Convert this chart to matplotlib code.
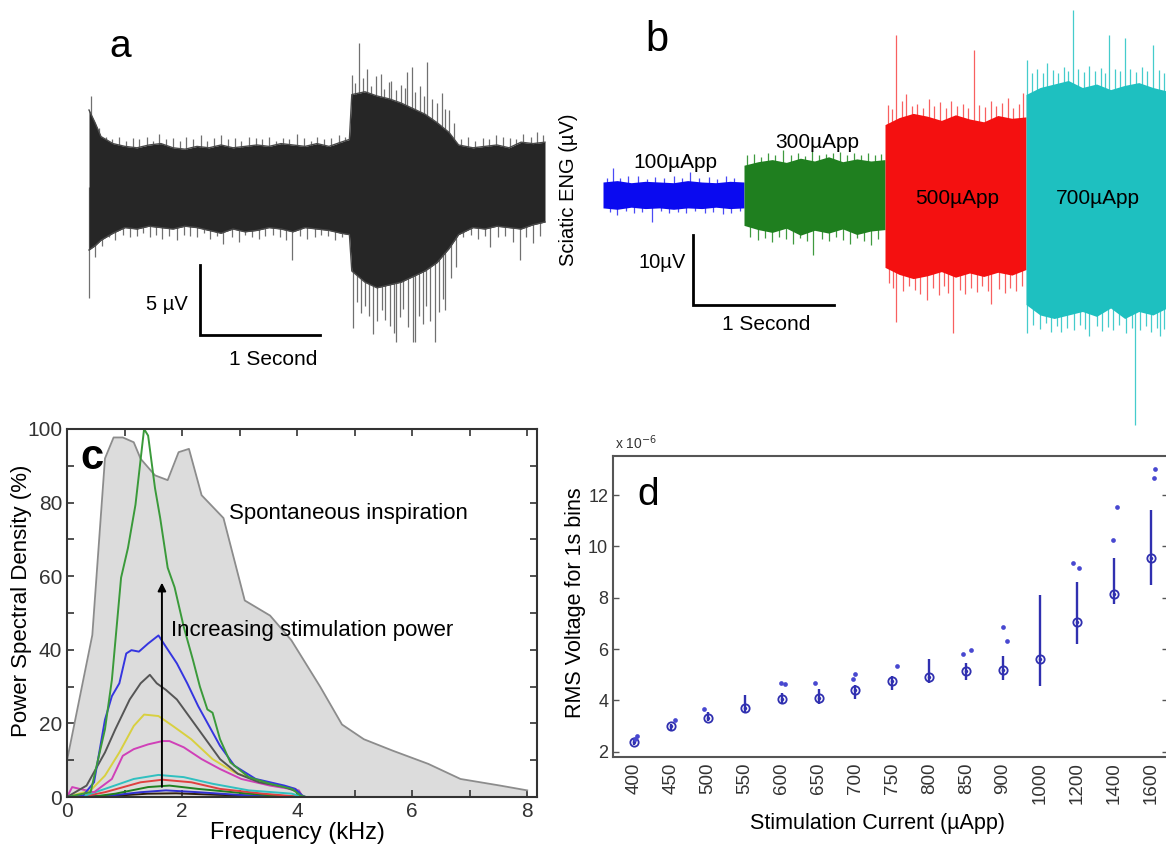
import matplotlib

matplotlib.use("Agg")
import matplotlib.pyplot as plt
import numpy as np
from matplotlib.ticker import MultipleLocator

plt.rcParams["font.family"] = ["Liberation Sans", "DejaVu Sans"]

W, H = 1166, 846

# panel a: spontaneous sciatic ENG, envelope in uV over time (s)
a_time = [0.00, 0.05, 0.10, 0.20, 0.30, 0.40, 0.50, 0.60, 0.70, 0.80, 0.90,
          1.00, 1.10, 1.20, 1.30, 1.40, 1.50, 1.60, 1.70, 1.80, 1.90, 2.00,
          2.10, 2.17, 2.19, 2.30, 2.40, 2.50, 2.60, 2.70, 2.80, 2.90, 3.00,
          3.08, 3.20, 3.30, 3.40, 3.50, 3.60, 3.70, 3.80]
a_top = [5.5, 4.6, 3.6, 3.1, 2.9, 2.8, 3.0, 3.1, 2.8, 2.7, 2.9,
         2.8, 3.0, 2.8, 2.9, 3.0, 2.9, 3.1, 3.0, 2.9, 3.1, 2.9,
         3.2, 3.4, 6.6, 6.8, 6.5, 6.3, 6.0, 5.6, 5.2, 4.6, 3.9,
         3.0, 2.8, 2.9, 3.0, 2.8, 3.2, 3.1, 3.2]
a_bottom = [-4.5, -4.2, -3.8, -3.3, -2.9, -3.0, -2.8, -2.9, -3.0, -2.8, -2.9,
            -3.1, -3.3, -3.0, -3.2, -3.1, -2.9, -3.0, -3.2, -2.9, -3.0, -3.1,
            -3.3, -3.4, -6.0, -6.8, -7.2, -7.0, -6.8, -6.4, -6.0, -5.4, -4.4,
            -3.4, -2.9, -3.0, -2.8, -2.9, -3.0, -2.7, -2.5]
a_up_time = [0.02, 0.08, 0.14, 0.19, 0.25, 0.31, 0.37, 0.42, 0.48, 0.53,
             0.58, 0.64, 0.70, 0.76, 0.81, 0.87, 0.93, 0.98, 1.04, 1.10,
             1.16, 1.22, 1.27, 1.33, 1.39, 1.44, 1.50, 1.56, 1.62, 1.67,
             1.73, 1.79, 1.85, 1.90, 1.96, 2.02, 2.08, 2.13,
             2.19, 2.22, 2.25, 2.28, 2.32, 2.35, 2.39, 2.43, 2.46, 2.50,
             2.52, 2.56, 2.60, 2.63, 2.65, 2.69, 2.72, 2.76, 2.79, 2.82,
             2.86, 2.90, 2.94, 2.97, 3.00, 3.04,
             3.10, 3.16, 3.22, 3.28, 3.33, 3.39, 3.45, 3.51, 3.56, 3.62,
             3.68, 3.73, 3.78]
a_up_amp = [6.5, 4.2, 3.6, 3.4, 3.6, 3.3, 3.5, 3.4, 3.6, 3.3,
            3.8, 3.4, 3.5, 3.3, 3.6, 3.4, 3.7, 3.3, 3.5, 3.7,
            3.4, 3.5, 3.3, 3.6, 3.5, 3.4, 3.6, 3.3, 3.5, 3.4,
            3.8, 3.5, 3.3, 3.6, 3.4, 3.5, 3.7, 3.6,
            8.0, 7.4, 10.3, 7.8, 8.4, 7.2, 7.9, 8.1, 7.0, 7.5,
            7.6, 6.9, 7.3, 7.1, 8.2, 8.6, 6.8, 7.2, 6.5, 8.9,
            6.3, 6.0, 6.7, 5.6, 5.5, 4.6,
            3.4, 3.6, 3.3, 3.5, 3.4, 3.7, 3.6, 3.5, 3.4, 3.8,
            3.6, 3.9, 3.7]
a_down_time = [0.00, 0.05, 0.11, 0.17, 0.22, 0.28, 0.34, 0.40, 0.45, 0.51,
               0.56, 0.61, 0.67, 0.73, 0.79, 0.84, 0.90, 0.96, 1.01, 1.07,
               1.12, 1.19, 1.25, 1.30, 1.36, 1.42, 1.47, 1.53, 1.59, 1.64,
               1.69, 1.76, 1.82, 1.88, 1.93, 1.99, 2.05, 2.11,
               2.20, 2.23, 2.27, 2.30, 2.33, 2.37, 2.40, 2.44, 2.47, 2.51,
               2.54, 2.56, 2.59, 2.62, 2.66, 2.70, 2.72, 2.75, 2.78, 2.81,
               2.84, 2.88, 2.92, 2.95, 2.97, 3.02, 3.06,
               3.12, 3.18, 3.24, 3.30, 3.34, 3.41, 3.47, 3.53, 3.59, 3.64,
               3.70, 3.76]
a_down_amp = [-7.9, -5.0, -4.2, -3.6, -3.8, -3.4, -3.6, -3.5, -3.3, -3.6,
              -3.4, -3.7, -3.5, -3.8, -3.4, -3.5, -3.6, -3.3, -3.7, -3.5,
              -4.1, -3.6, -3.9, -3.4, -3.6, -3.7, -3.5, -3.4, -3.6, -3.8,
              -5.2, -3.5, -3.7, -3.6, -3.4, -3.5, -3.8, -3.6,
              -10.1, -8.2, -9.0, -8.5, -9.2, -10.5, -9.6, -8.8, -9.5, -9.9,
              -10.4, -11.1, -9.3, -8.7, -10.0, -11.1, -11.1, -9.2, -9.8, -8.5,
              -9.6, -11.1, -8.9, -8.0, -8.8, -6.5, -5.7,
              -3.6, -3.4, -3.7, -3.5, -4.3, -3.6, -3.5, -3.9, -5.2, -3.6,
              -4.0, -3.5]

# panel b: evoked ENG for four stimulation currents, 1 s each
b_labels = ["100\u00b5App", "300\u00b5App", "500\u00b5App", "700\u00b5App"]
b_seg_time = [0.0, 0.1, 0.2, 0.3, 0.4, 0.5, 0.6, 0.7, 0.8, 0.9, 1.0]
b_top = [
    [2.0, 2.2, 1.9, 2.1, 2.0, 1.9, 2.2, 2.0, 1.9, 2.1, 2.0],
    [4.4, 4.9, 5.2, 4.8, 5.4, 5.0, 5.6, 4.9, 5.3, 5.0, 5.2],
    [10.2, 11.2, 11.8, 11.4, 10.8, 11.6, 11.0, 10.6, 11.5, 11.1, 11.3],
    [14.5, 15.5, 16.0, 16.5, 15.5, 16.0, 15.2, 15.8, 16.2, 15.5, 15.0],
]
b_bottom = [
    [-1.7, -1.9, -1.6, -1.8, -1.7, -1.9, -1.7, -1.8, -1.6, -1.8, -1.7],
    [-4.2, -4.8, -5.2, -4.6, -5.6, -4.9, -5.3, -4.7, -5.5, -5.0, -4.8],
    [-10.2, -11.2, -11.8, -11.4, -10.8, -11.6, -11.0, -11.5, -10.9, -11.3, -10.5],
    [-15.5, -17.0, -17.5, -17.0, -16.5, -17.2, -16.0, -17.5, -16.5, -17.0, -16.0],
]
b_up_time = [0.03, 0.07, 0.12, 0.18, 0.25, 0.31, 0.37, 0.43, 0.50, 0.56,
             0.62, 0.68, 0.75, 0.81, 0.87, 0.93,
             1.02, 1.07, 1.12, 1.17, 1.22, 1.28, 1.33, 1.38, 1.43, 1.48,
             1.53, 1.58, 1.63, 1.68, 1.73, 1.78, 1.83, 1.88, 1.93, 1.97,
             2.02, 2.05, 2.08, 2.12, 2.15, 2.19, 2.23, 2.27, 2.31, 2.35,
             2.39, 2.43, 2.47, 2.51, 2.55, 2.59, 2.63, 2.67, 2.71, 2.75,
             2.79, 2.83, 2.87, 2.91, 2.95, 2.98,
             3.01, 3.04, 3.08, 3.12, 3.15, 3.19, 3.23, 3.27, 3.30, 3.33,
             3.37, 3.41, 3.45, 3.49, 3.53, 3.56, 3.59, 3.63, 3.67, 3.70,
             3.74, 3.78, 3.82, 3.86, 3.90, 3.94, 3.98]
b_up_amp = [2.6, 4.0, 2.5, 2.8, 2.8, 2.4, 2.7, 2.5, 2.9, 2.6,
            3.4, 2.5, 2.7, 2.4, 2.8, 2.6,
            5.8, 6.0, 5.6, 6.2, 5.8, 6.6, 5.9, 6.1, 5.7, 6.4,
            5.9, 6.0, 6.2, 6.3, 5.8, 6.1, 5.9, 6.2, 5.8, 6.0,
            13.0, 12.4, 23.0, 13.5, 14.5, 12.8, 13.2, 12.5, 13.8, 12.9,
            13.4, 12.6, 13.6, 12.8, 13.2, 12.5, 20.9, 13.0, 12.7, 13.5,
            12.9, 13.3, 14.0, 12.6, 13.1, 14.7,
            19.4, 17.5, 18.2, 17.6, 19.0, 18.0, 17.6, 18.4, 17.8, 26.6,
            18.2, 17.7, 18.5, 17.9, 18.3, 17.6, 23.0, 18.1, 17.8, 22.5,
            18.2, 17.7, 18.4, 17.9, 21.5, 18.0, 17.6]
b_down_time = [0.05, 0.10, 0.16, 0.22, 0.28, 0.35, 0.41, 0.47, 0.53, 0.59,
               0.65, 0.72, 0.78, 0.85, 0.91, 0.97,
               1.04, 1.10, 1.15, 1.20, 1.25, 1.30, 1.35, 1.40, 1.45, 1.49,
               1.55, 1.60, 1.65, 1.70, 1.75, 1.80, 1.85, 1.90, 1.95,
               2.03, 2.06, 2.08, 2.13, 2.17, 2.21, 2.25, 2.30, 2.34, 2.38,
               2.42, 2.45, 2.48, 2.53, 2.57, 2.61, 2.65, 2.69, 2.73, 2.75,
               2.81, 2.85, 2.89, 2.93, 2.97,
               3.01, 3.05, 3.10, 3.14, 3.18, 3.22, 3.25, 3.29, 3.34, 3.38,
               3.42, 3.45, 3.50, 3.54, 3.58, 3.62, 3.66, 3.71, 3.75, 3.77,
               3.81, 3.85, 3.89, 3.93, 3.95, 3.98]
b_down_amp = [-2.3, -2.7, -2.2, -2.4, -2.3, -3.7, -2.2, -2.5, -2.3, -2.4,
              -2.2, -2.5, -2.3, -2.6, -2.4, -2.2,
              -5.8, -6.3, -6.0, -6.6, -5.9, -6.2, -6.8, -6.0, -6.4, -8.4,
              -6.1, -6.5, -5.9, -6.3, -6.8, -6.0, -6.4, -7.0, -6.2,
              -12.5, -13.2, -18.0, -13.6, -12.8, -13.5, -14.0, -14.9, -13.2, -14.2,
              -12.9, -13.8, -19.6, -13.4, -14.0, -13.1, -13.7, -12.9, -13.6, -15.5,
              -13.3, -13.9, -13.2, -13.6, -12.8,
              -19.6, -18.5, -19.0, -18.2, -19.4, -18.6, -19.5, -18.8, -19.2, -18.4,
              -19.0, -20.0, -18.6, -19.3, -18.7, -19.1, -18.5, -19.6, -18.9, -32.7,
              -19.2, -18.6, -19.4, -18.8, -20.0, -19.0]

# panel c: power spectral density (%) vs frequency (kHz)
spont_f = [0, 0.44, 0.66, 0.81, 0.97, 1.16, 1.28, 1.53, 1.75, 1.94, 2.12, 2.34,
           2.72, 3.09, 3.53, 3.9, 4.4, 4.78, 5.16, 5.66, 6.28, 6.84, 7.53, 8.0]
spont_p = [9.9, 44, 92, 97.7, 97.7, 96.4, 91.9, 87.4, 86.1, 93.7, 94.6, 82,
           75.8, 53.4, 49.3, 42.6, 30, 19.7, 15.7, 12.6, 9.0, 4.9, 3.1, 1.8]

green_f = [0, 0.41, 0.66, 0.78, 0.94, 1.06, 1.19, 1.34, 1.41, 1.53, 1.62, 1.75, 1.87,
           2.03, 2.19, 2.31, 2.44, 2.53, 2.66, 2.84, 3.16, 3.53, 3.91, 4.06, 4.15, 8.0]
green_p = [0, 1.3, 18.4, 31.8, 59.6, 67.7, 79.4, 100, 98.2, 83.9, 75.8, 62.3, 57,
           46.2, 37.2, 30, 23.8, 22.9, 15.7, 9.4, 5.4, 3.6, 2.2, 0.4, 0, 0]
blue_f = [0, 0.28, 0.47, 0.66, 0.78, 0.91, 1.03, 1.12, 1.25, 1.41, 1.59, 1.72, 1.91,
          2.09, 2.28, 2.47, 2.66, 2.91, 3.28, 3.78, 3.97, 4.09, 4.15]
blue_p = [0, 0.4, 4, 21, 27.4, 30.9, 39, 39.9, 39.5, 41.7, 43.9, 40.8, 36.3,
          30.9, 24.7, 19.3, 13.9, 8.5, 4.9, 3.1, 2.2, 0.4, 0]
gray_f = [0, 0.34, 0.66, 0.84, 1.09, 1.28, 1.44, 1.56, 1.72, 1.91, 2.16, 2.41,
          2.66, 2.97, 3.34, 3.78, 4.03, 4.1]
gray_p = [0, 3.1, 12.1, 18.4, 26.5, 30.9, 33.2, 30.9, 29.1, 26.5, 21.1, 15.7,
          10.3, 6.3, 4.0, 2.7, 1.3, 0]
yellow_f = [0, 0.41, 0.66, 0.91, 1.16, 1.34, 1.59, 1.84, 2.16, 2.53, 2.91, 3.41,
            3.97, 4.09, 4.15]
yellow_p = [0, 1.8, 5.8, 12.1, 19.3, 22.4, 22.0, 19.3, 15.7, 10.3, 6.7, 4.0,
            2.2, 0.4, 0]
magenta_f = [0, 0.09, 0.22, 0.47, 0.78, 0.97, 1.16, 1.41, 1.66, 1.78, 2.03, 2.34,
             2.66, 3.03, 3.53, 4.03, 4.1]
magenta_p = [0, 2.7, 2.2, 1.3, 4.9, 11.2, 13.0, 14.3, 15.2, 15.2, 13.5, 10.3,
             7.6, 4.9, 3.1, 1.8, 0]
cyan_f = [0, 0.3, 0.66, 1.16, 1.59, 2.03, 2.53, 3.16, 3.91, 4.1]
cyan_p = [0, 0.3, 2.2, 4.9, 6.0, 5.4, 3.6, 1.8, 0.9, 0]
red_f = [0, 0.3, 0.66, 1.28, 1.66, 2.16, 2.66, 3.41, 4.1]
red_p = [0, 0.2, 1.3, 4.0, 4.7, 4.0, 2.2, 0.9, 0]
dgreen_f = [0, 0.5, 0.84, 1.41, 1.78, 2.28, 3.16, 4.0]
dgreen_p = [0, 0.2, 0.9, 2.7, 3.1, 2.2, 0.9, 0]
dblue_f = [0, 0.7, 1.28, 1.72, 2.28, 3.16, 4.0]
dblue_p = [0, 0.3, 1.3, 1.8, 1.3, 0.4, 0]
black_f = [0, 0.8, 1.4, 1.9, 2.6, 3.5, 4.0]
black_p = [0, 0.3, 0.9, 1.0, 0.6, 0.2, 0]

# panel d: RMS voltage (x1e-6) per stimulation current
d_currents = ["400", "450", "500", "550", "600", "650", "700", "750",
              "800", "850", "900", "1000", "1200", "1400", "1600"]
d_median = [2.4, 3.0, 3.3, 3.7, 4.05, 4.1, 4.4, 4.75, 4.9, 5.15, 5.2, 5.6, 7.05, 8.15, 9.55]
d_low = [2.25, 2.85, 3.2, 3.55, 3.85, 3.85, 4.05, 4.4, 4.7, 4.8, 4.8, 4.55, 6.2, 7.75, 8.5]
d_high = [2.55, 3.1, 3.55, 4.2, 4.3, 4.45, 4.6, 4.95, 5.6, 5.45, 5.75, 8.1, 8.6, 9.55, 11.4]
d_outliers = [[2.6, 2.5], [3.25], [3.65], [], [4.7, 4.65], [4.7], [4.85, 5.05],
              [5.35], [], [5.8, 5.95], [6.85, 6.3], [], [9.35, 9.15],
              [10.25, 11.55], [12.65, 13.0]]
d_jitter = [[0.08, 0.03], [0.11], [-0.1], [], [-0.03, 0.08], [-0.1], [-0.07, 0.0],
            [0.12], [], [-0.09, 0.12], [0.0, 0.1], [], [-0.1, 0.05],
            [-0.02, 0.1], [0.1, 0.12]]


def px_axes(fig, x0, y0, x1, y1):
    """Add axes from a pixel box measured from the top-left corner."""
    return fig.add_axes([x0 / W, 1 - y1 / H, (x1 - x0) / W, (y1 - y0) / H])


def px_text(fig, x, y, s, **kw):
    return fig.text(x / W, 1 - y / H, s, **kw)


fig = plt.figure(figsize=(W / 100, H / 100), dpi=100)

# ---------------- panel a ----------------
ax_a = px_axes(fig, 60, 20, 560, 380)
ax_a.set_xlim((60 - 89) / 120, (560 - 89) / 120)
ax_a.set_ylim((187 - 380) / 14, (187 - 20) / 14)
ax_a.axis("off")
ax_a.vlines(a_up_time, 0, a_up_amp, color="#707070", lw=0.9, zorder=1)
ax_a.vlines(a_down_time, 0, a_down_amp, color="#707070", lw=0.9, zorder=1)
ax_a.fill_between(a_time, a_bottom, a_top, color="#262626", lw=0, zorder=2)
ax_a.plot(a_time, a_top, color="#4a4a4a", lw=1.0, zorder=3)
ax_a.plot(a_time, a_bottom, color="#4a4a4a", lw=1.0, zorder=3)
# scale bar: 1 s by 5 uV
ax_a.plot([0.925, 0.925, 1.925], [-5.57, -10.57, -10.57], color="black", lw=2.0,
          solid_joinstyle="miter")
px_text(fig, 188, 304, "5 \u00b5V", fontsize=14.5, ha="right", va="center")
px_text(fig, 273, 359, "1 Second", fontsize=15, ha="center", va="center")
px_text(fig, 120, 47, "a", fontsize=28, ha="center", va="center")

# ---------------- panel b ----------------
ax_b = px_axes(fig, 560, 0, 1166, 430)
ax_b.set_xlim((560 - 603) / 141, (1166 - 603) / 141)
ax_b.set_ylim((196 - 430) / 7, 196 / 7)
ax_b.axis("off")
b_colors = ["#0a0af0", "#1f7f1f", "#f41010", "#1ec0c0"]
b_spike_colors = ["#4a4af5", "#3f9a3f", "#f86060", "#45cccc"]
for times, amps in [(b_up_time, b_up_amp), (b_down_time, b_down_amp)]:
    seg = np.clip(np.floor(times).astype(int), 0, 3)
    ax_b.vlines(times, 0, amps, colors=[b_spike_colors[k] for k in seg],
                lw=0.9, zorder=1)
for k in range(4):
    t = k + np.array(b_seg_time)
    ax_b.fill_between(t, b_bottom[k], b_top[k], color=b_colors[k], lw=0, zorder=2)
ax_b.plot([0.638, 0.638, 1.638], [-5.57, -15.57, -15.57], color="black", lw=2.0,
          solid_joinstyle="miter")
px_text(fig, 633, 163, b_labels[0], fontsize=15, va="center")
px_text(fig, 775, 142, b_labels[1], fontsize=15, va="center")
px_text(fig, 915, 198, b_labels[2], fontsize=15, va="center")
px_text(fig, 1056, 198, b_labels[3], fontsize=15, va="center")
px_text(fig, 686, 262, "10\u00b5V", fontsize=14.5, ha="right", va="center")
px_text(fig, 766, 325, "1 Second", fontsize=15, ha="center", va="center")
px_text(fig, 568, 190, "Sciatic ENG (\u00b5V)", fontsize=14.5, rotation=90,
        ha="center", va="center")
px_text(fig, 657, 40, "b", fontsize=30, ha="center", va="center")

# ---------------- panel c ----------------
ax_c = px_axes(fig, 67, 429, 537, 797)
ax_c.fill_between(spont_f, spont_p, color="#dcdcdc", lw=0)
ax_c.plot(spont_f, spont_p, color="#8c8c8c", lw=1.3)
c_lines = [
    (black_f, black_p, "#302010"),
    (dblue_f, dblue_p, "#3030d0"),
    (dgreen_f, dgreen_p, "#208020"),
    (red_f, red_p, "#e04040"),
    (cyan_f, cyan_p, "#30c0c0"),
    (magenta_f, magenta_p, "#d040b8"),
    (yellow_f, yellow_p, "#d8d040"),
    (gray_f, gray_p, "#555555"),
    (blue_f, blue_p, "#3535e0"),
    (green_f, green_p, "#3a9a3a"),
]
for f, p, col in c_lines:
    ax_c.plot(f, p, color=col, lw=1.4)
ax_c.annotate("", xy=(1.65, 59), xytext=(1.65, 2),
              arrowprops=dict(arrowstyle="-|>", color="black", lw=1.4,
                              mutation_scale=12))
ax_c.set_xlim(0, 8.17)
ax_c.set_ylim(0, 100)
ax_c.xaxis.set_major_locator(MultipleLocator(2))
ax_c.xaxis.set_minor_locator(MultipleLocator(1))
ax_c.yaxis.set_major_locator(MultipleLocator(20))
ax_c.yaxis.set_minor_locator(MultipleLocator(10))
ax_c.tick_params(which="both", direction="in", top=True, right=True, length=5,
                 width=1.2, color="#333333", labelsize=15, labelcolor="#333333")
for sp in ax_c.spines.values():
    sp.set_color("#333333")
    sp.set_linewidth(1.5)
ax_c.text(2.82, 77, "Spontaneous inspiration", fontsize=16, va="center")
ax_c.text(1.81, 45.3, "Increasing stimulation power", fontsize=16, va="center")
ax_c.text(0.43, 92, "c", fontsize=30, fontweight="bold", ha="center", va="center")
px_text(fig, 22, 601, "Power Spectral Density (%)", fontsize=16, rotation=90,
        ha="center", va="center")
px_text(fig, 297, 833, "Frequency (kHz)", fontsize=17, ha="center", va="center")

# ---------------- panel d ----------------
ax_d = px_axes(fig, 613, 456, 1168, 757)
d_color = "#3030b0"
x = np.arange(len(d_currents))
ax_d.vlines(x, d_low, d_high, color=d_color, lw=1.7)
ax_d.plot(x, d_median, "o", mfc="none", mec=d_color, ms=6, mew=1.3)
ax_d.plot(x, d_median, "o", color=d_color, ms=2.5, mew=0)
for i, (vals, offs) in enumerate(zip(d_outliers, d_jitter)):
    if vals:
        ax_d.plot(i + np.array(offs), vals, "o", color="#4848d0", ms=3.4, mew=0)
ax_d.set_xlim(-0.57, 14.47)
ax_d.set_ylim(1.8, 13.52)
ax_d.set_yticks([2, 4, 6, 8, 10, 12])
ax_d.set_xticks(x, d_currents, rotation=90)
ax_d.tick_params(axis="y", direction="in", right=True, length=4, width=1,
                 color="#555555", labelsize=13, labelcolor="#333333")
ax_d.tick_params(axis="x", direction="in", length=0, pad=4,
                 labelsize=13.5, labelcolor="#333333")
for sp in ax_d.spines.values():
    sp.set_color("#555555")
    sp.set_linewidth(1.5)
ax_d.text(0.38, 12, "d", fontsize=28, ha="center", va="center")
px_text(fig, 615, 443, r"x 10$^{-6}$", fontsize=10, color="#333333", va="center")
px_text(fig, 576, 603, "RMS Voltage for 1s bins", fontsize=15.5, rotation=90,
        ha="center", va="center")
px_text(fig, 878, 823, "Stimulation Current (\u00b5App)", fontsize=15.5,
        ha="center", va="center")

fig.savefig("out.png", dpi=100)
